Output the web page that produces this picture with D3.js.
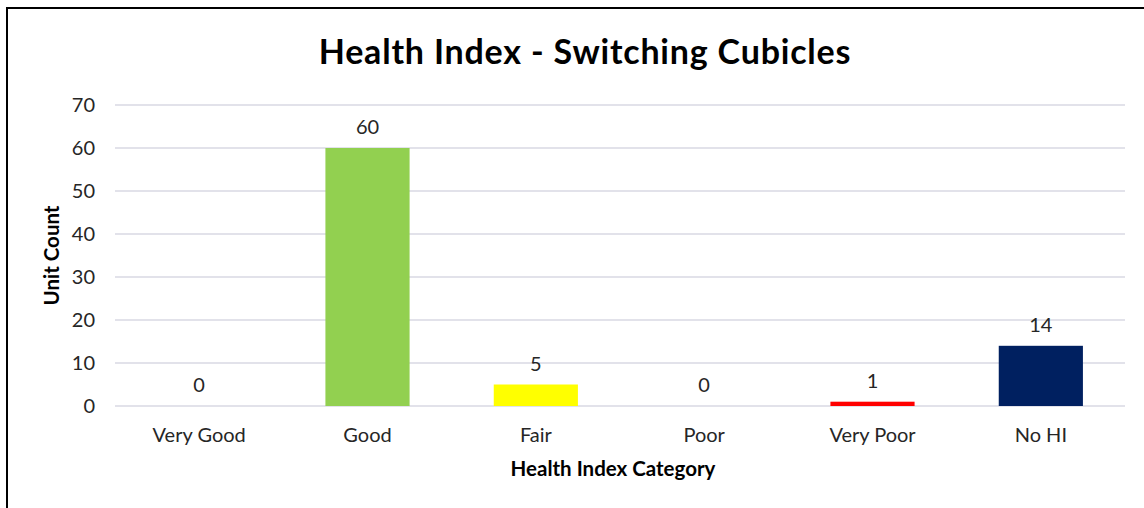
<!DOCTYPE html>
<html>
<head>
<meta charset="utf-8">
<script src="https://cdn.jsdelivr.net/npm/d3@7"></script>
<style>
  html, body { margin: 0; padding: 0; background: #fff; }
  svg { display: block; }
  text { font-family: Lato, "Open Sans", "Liberation Sans", sans-serif; }
</style>
</head>
<body>
<svg id="chart" width="1144" height="508"></svg>
<script>
// Health index categories and unit counts
const categories = ["Very Good", "Good", "Fair", "Poor", "Very Poor", "No HI"];
const unitCounts = [0, 60, 5, 0, 1, 14];
const barColors = ["#00B050", "#92D050", "#FFFF00", "#FFC000", "#FF0000", "#002060"];
const yTicks = [0, 10, 20, 30, 40, 50, 60, 70];

const titleText = "Health Index - Switching Cubicles";
const xTitle = "Health Index Category";
const yTitle = "Unit Count";

const svg = d3.select("#chart");
const W = 1144, H = 508;
const margin = { top: 105, right: 19, bottom: 102, left: 115 };
const plotW = W - margin.left - margin.right;
const plotH = H - margin.top - margin.bottom;

const labelFont = 20;
const labelColor = "#262626";

// outer chart frame
svg.append("rect")
  .attr("x", 7).attr("y", 8)
  .attr("width", 1160).attr("height", 620)
  .attr("fill", "#fff")
  .attr("stroke", "#000")
  .attr("stroke-width", 2);

const g = svg.append("g").attr("transform", `translate(${margin.left},${margin.top})`);

const x = d3.scaleBand().domain(categories).range([0, plotW]).paddingInner(0.5).paddingOuter(0.25);
const y = d3.scaleLinear().domain([0, 70]).range([plotH, 0]);

// horizontal gridlines
g.append("g")
  .selectAll("line")
  .data(yTicks)
  .join("line")
  .attr("x1", 0).attr("x2", plotW)
  .attr("y1", d => y(d)).attr("y2", d => y(d))
  .attr("stroke", "#D9D9E3")
  .attr("stroke-width", 1.5);

// y axis labels
const yAxis = g.append("g")
  .call(d3.axisLeft(y).tickValues(yTicks).tickSize(0).tickPadding(20));
yAxis.select(".domain").remove();
yAxis.selectAll("text")
  .attr("font-size", labelFont)
  .attr("font-family", "Lato, 'Open Sans', sans-serif")
  .attr("fill", labelColor);

// x axis labels
const xAxis = g.append("g")
  .attr("transform", `translate(0,${plotH})`)
  .call(d3.axisBottom(x).tickSize(0).tickPadding(22));
xAxis.select(".domain").remove();
xAxis.selectAll("text")
  .attr("font-size", labelFont)
  .attr("font-family", "Lato, 'Open Sans', sans-serif")
  .attr("fill", labelColor);

// bars
g.append("g")
  .selectAll("rect")
  .data(categories)
  .join("rect")
  .attr("x", d => x(d))
  .attr("width", x.bandwidth())
  .attr("y", (d, i) => y(unitCounts[i]))
  .attr("height", (d, i) => plotH - y(unitCounts[i]))
  .attr("fill", (d, i) => barColors[i]);

// value labels
g.append("g")
  .selectAll("text")
  .data(categories)
  .join("text")
  .attr("x", d => x(d) + x.bandwidth() / 2)
  .attr("y", (d, i) => y(unitCounts[i]) - 14)
  .attr("text-anchor", "middle")
  .attr("font-size", labelFont)
  .attr("fill", labelColor)
  .text((d, i) => unitCounts[i]);

// title
svg.append("text")
  .attr("x", 585).attr("y", 64)
  .attr("text-anchor", "middle")
  .attr("font-size", 34)
  .attr("font-weight", "bold")
  .attr("letter-spacing", 0.8)
  .attr("fill", "#000")
  .text(titleText);

// x axis title
svg.append("text")
  .attr("x", 613).attr("y", 476)
  .attr("text-anchor", "middle")
  .attr("font-size", 20.5)
  .attr("font-weight", "bold")
  .attr("fill", "#000")
  .text(xTitle);

// y axis title
svg.append("text")
  .attr("transform", `translate(59,${margin.top + plotH / 2}) rotate(-90)`)
  .attr("text-anchor", "middle")
  .attr("font-size", 20.5)
  .attr("font-weight", "bold")
  .attr("fill", "#000")
  .text(yTitle);
</script>
</body>
</html>
